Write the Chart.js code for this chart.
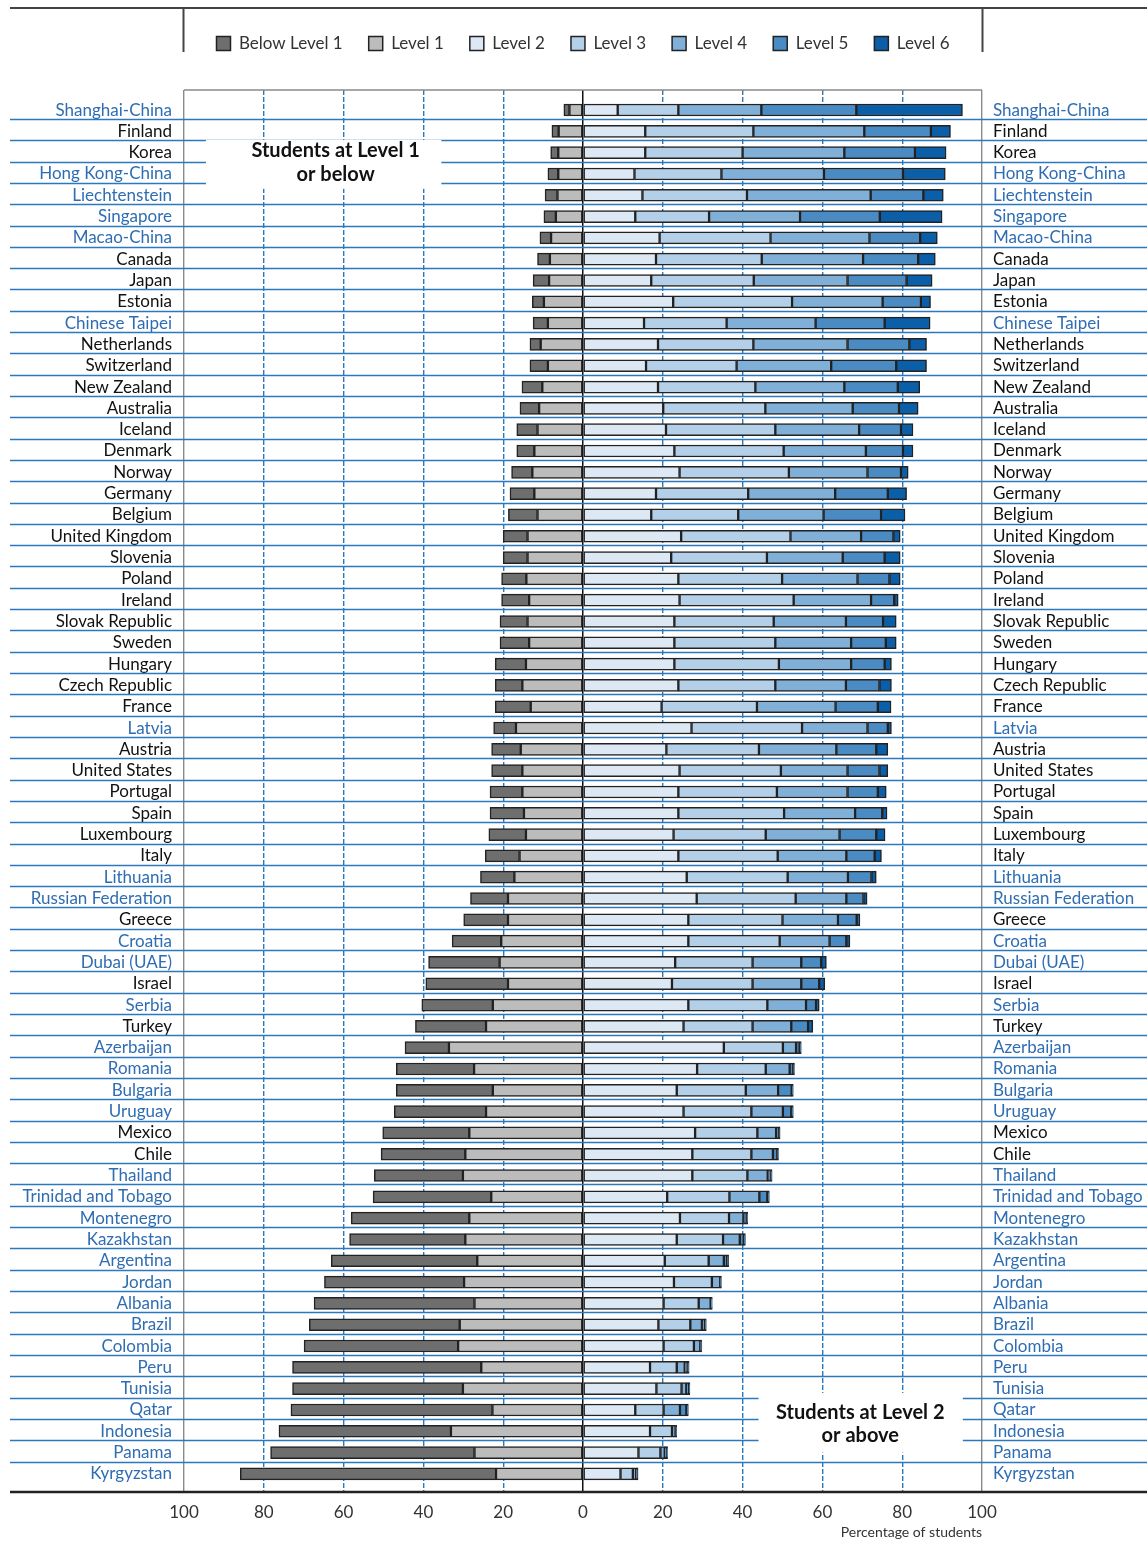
<!DOCTYPE html>
<html>
<head>
<meta charset="utf-8">
<script src="https://cdn.jsdelivr.net/npm/chart.js@4.4.1/dist/chart.umd.min.js"></script>
<style>
  html, body { margin: 0; padding: 0; background: #fff; }
  #wrap { width: 1147px; height: 1541px; position: relative; }
</style>
</head>
<body>
<div id="wrap"><canvas id="levels-graphic"></canvas></div>
<script>
const countries = ['Shanghai-China', 'Finland', 'Korea', 'Hong Kong-China', 'Liechtenstein', 'Singapore', 'Macao-China', 'Canada', 'Japan', 'Estonia',
    'Chinese Taipei', 'Netherlands', 'Switzerland', 'New Zealand', 'Australia', 'Iceland', 'Denmark', 'Norway', 'Germany', 'Belgium',
    'United Kingdom', 'Slovenia', 'Poland', 'Ireland', 'Slovak Republic', 'Sweden', 'Hungary', 'Czech Republic', 'France', 'Latvia',
    'Austria', 'United States', 'Portugal', 'Spain', 'Luxembourg', 'Italy', 'Lithuania', 'Russian Federation', 'Greece', 'Croatia',
    'Dubai (UAE)', 'Israel', 'Serbia', 'Turkey', 'Azerbaijan', 'Romania', 'Bulgaria', 'Uruguay', 'Mexico', 'Chile',
    'Thailand', 'Trinidad and Tobago', 'Montenegro', 'Kazakhstan', 'Argentina', 'Jordan', 'Albania', 'Brazil', 'Colombia', 'Peru',
    'Tunisia', 'Qatar', 'Indonesia', 'Panama', 'Kyrgyzstan'];

// partner countries get blue labels
const partners = ['Shanghai-China', 'Hong Kong-China', 'Liechtenstein', 'Singapore', 'Macao-China', 'Chinese Taipei', 'Latvia', 'Lithuania',
    'Russian Federation', 'Croatia', 'Dubai (UAE)', 'Serbia', 'Azerbaijan', 'Romania', 'Bulgaria', 'Uruguay', 'Thailand', 'Trinidad and Tobago',
    'Montenegro', 'Kazakhstan', 'Argentina', 'Jordan', 'Albania', 'Brazil', 'Colombia', 'Peru', 'Tunisia', 'Qatar', 'Indonesia', 'Panama', 'Kyrgyzstan'];

const belowLevel1 = [1.4, 1.7, 1.9, 2.6, 3.1, 3.0, 2.8, 3.1, 4.0, 2.9, 3.7, 2.7, 4.5, 5.1, 4.8, 5.2, 4.4, 5.2, 6.1, 7.3,
    6.1, 6.1, 6.2, 6.9, 6.9, 7.3, 7.7, 6.8, 8.9, 5.6, 7.3, 7.7, 8.1, 8.5, 9.3, 8.6, 8.5, 9.4, 11.1, 12.3,
    17.8, 20.6, 17.8, 17.7, 11.0, 19.5, 24.2, 23.0, 21.7, 21.1, 22.2, 29.6, 29.6, 29.0, 36.6, 35.0, 40.2, 37.7, 38.6, 47.3,
    42.7, 50.5, 43.1, 51.1, 64.1];
const level1 = [3.4, 6.1, 6.2, 6.2, 6.4, 6.8, 8.0, 8.3, 8.5, 9.8, 8.8, 10.6, 8.8, 10.2, 11.0, 11.4, 12.2, 12.7, 12.2, 11.4,
    13.9, 13.9, 14.2, 13.5, 13.9, 13.5, 14.3, 15.2, 13.1, 16.8, 15.6, 15.2, 15.2, 14.8, 14.3, 15.9, 17.2, 18.8, 18.8, 20.5,
    20.9, 18.8, 22.6, 24.3, 33.6, 27.3, 22.6, 24.3, 28.5, 29.5, 30.1, 23.0, 28.5, 29.5, 26.5, 29.8, 27.2, 30.9, 31.3, 25.5,
    30.1, 22.7, 33.1, 27.2, 21.8];
const level2 = [8.7, 15.6, 15.6, 12.9, 14.9, 13.1, 19.2, 18.3, 17.1, 22.6, 15.3, 18.8, 15.8, 18.8, 20.1, 20.8, 22.9, 24.2, 18.3, 17.1,
    24.6, 22.1, 23.9, 24.2, 22.9, 22.9, 22.9, 23.9, 19.7, 27.2, 20.9, 24.2, 23.9, 23.9, 22.7, 23.9, 26.0, 28.5, 26.4, 26.4,
    23.1, 22.3, 26.4, 25.2, 35.3, 28.6, 23.5, 25.2, 28.1, 27.4, 27.4, 21.1, 24.3, 23.5, 20.5, 22.8, 20.2, 18.9, 20.2, 16.8,
    18.4, 13.1, 16.8, 13.9, 9.4];
const level3 = [15.2, 27.1, 24.4, 21.8, 26.2, 18.5, 27.8, 26.5, 25.7, 29.8, 20.7, 23.9, 22.7, 24.4, 25.6, 27.4, 27.4, 27.4, 23.1, 21.8,
    27.4, 24.0, 26.0, 28.6, 24.9, 25.3, 26.2, 24.3, 23.9, 27.7, 23.2, 25.4, 24.7, 26.5, 23.1, 24.9, 25.3, 24.8, 23.6, 22.9,
    19.4, 20.2, 19.8, 17.3, 14.8, 17.2, 17.3, 17.0, 15.6, 14.8, 13.8, 15.6, 12.3, 11.6, 11.0, 9.5, 8.8, 8.0, 7.6, 6.7,
    6.3, 7.1, 5.5, 5.5, 3.1];
const level4 = [20.8, 27.8, 25.5, 25.7, 31.0, 22.8, 24.8, 25.4, 23.5, 22.7, 22.3, 23.6, 23.7, 22.3, 21.9, 21.0, 20.6, 19.7, 21.8, 21.4,
    17.7, 19.0, 18.9, 19.4, 18.1, 19.0, 18.1, 17.7, 19.7, 16.4, 19.4, 16.7, 17.7, 17.8, 18.5, 17.2, 15.1, 12.7, 13.9, 12.5,
    12.2, 12.2, 9.7, 9.7, 3.3, 6.0, 8.1, 7.9, 4.7, 5.4, 5.1, 7.5, 3.6, 4.2, 3.8, 2.1, 3.0, 2.9, 1.6, 2.0,
    1.2, 4.1, 0.9, 1.1, 0.8];
const level5 = [23.8, 16.7, 17.7, 19.8, 13.2, 20.0, 12.7, 13.8, 14.8, 9.6, 17.3, 15.5, 16.3, 13.4, 11.6, 10.5, 9.3, 8.4, 13.2, 14.4,
    8.1, 10.5, 8.0, 5.8, 9.3, 8.7, 8.4, 8.4, 10.6, 5.1, 10.0, 8.0, 7.6, 6.8, 9.2, 7.1, 5.9, 4.3, 4.7, 4.2,
    5.0, 4.5, 2.5, 4.2, 0.9, 0.9, 3.4, 2.1, 0.8, 1.1, 0.7, 2.0, 0.8, 1.0, 0.8, 0.3, 0.3, 0.7, 0.3, 0.6,
    0.6, 1.6, 0.2, 0.5, 0.4];
const level6 = [26.6, 4.9, 7.8, 10.6, 5.0, 15.6, 4.3, 4.3, 6.4, 2.4, 11.4, 4.3, 7.6, 5.5, 4.8, 3.0, 2.5, 1.8, 4.7, 6.0,
    1.7, 3.9, 2.7, 1.0, 3.3, 2.6, 1.7, 3.0, 3.3, 0.9, 2.9, 2.1, 2.1, 1.2, 2.2, 1.7, 1.2, 0.9, 0.8, 0.9,
    1.3, 1.4, 0.8, 1.2, 0.4, 0.3, 0.4, 0.5, 0.2, 0.3, 0.4, 0.5, 0.3, 0.4, 0.4, 0.0, 0.1, 0.4, 0.1, 0.5,
    0.3, 0.5, 0.1, 0.2, 0.1];

const BLUE = '#2b78bd';
const LABEL_BLUE = '#2f6db3';

// level 1 goes first so it sits next to zero on the negative side
const series = [
    { label: 'Level 1', values: level1, sign: -1, color: '#bcbcbc', rank: 1 },
    { label: 'Below Level 1', values: belowLevel1, sign: -1, color: '#6e6e6e', rank: 0 },
    { label: 'Level 2', values: level2, sign: 1, color: '#dce8f4', rank: 2 },
    { label: 'Level 3', values: level3, sign: 1, color: '#b4d0e8', rank: 3 },
    { label: 'Level 4', values: level4, sign: 1, color: '#80b0d8', rank: 4 },
    { label: 'Level 5', values: level5, sign: 1, color: '#4a8bc3', rank: 5 },
    { label: 'Level 6', values: level6, sign: 1, color: '#0b5ea8', rank: 6 }
];

const labelFont = { family: 'Lato', size: 17 };

function countryTicks(position, width, pad) {
    return {
        type: 'linear',
        position: position,
        reverse: true,
        offset: false,
        min: -0.94,
        max: 64.85,
        stacked: true,
        grid: { display: false, drawTicks: false, offset: false },
        border: { display: false },
        ticks: {
            stepSize: 1,
            autoSkip: false,
            includeBounds: false,
            maxTicksLimit: 200,
            padding: pad,
            font: labelFont,
            color: ctx => partners.includes(countries[ctx.tick.value]) ? LABEL_BLUE : '#111',
            callback: v => countries[v] ?? ''
        },
        afterFit: scale => { scale.width = width; }
    };
}

const decorations = {
    id: 'decorations',
    beforeInit(chart) {
        const lg = chart.legend;
        const fit = lg.fit;
        lg.fit = function () {
            fit.call(this);
            this.height = 81;
        };
    },
    beforeDatasetsDraw(chart) {
        const { ctx, chartArea, scales } = chart;
        const x = scales.x, y = scales.y;
        ctx.save();

        // row separators across the whole width
        ctx.strokeStyle = BLUE;
        ctx.lineWidth = 1.5;
        for (let i = 0; i < countries.length - 1; i++) {
            const py = Math.round(y.getPixelForValue(i + 0.42)) + 0.5;
            ctx.beginPath();
            ctx.moveTo(10, py);
            ctx.lineTo(chart.width, py);
            ctx.stroke();
        }

        // top edge of the plot frame
        ctx.strokeStyle = '#8a8a8a';
        ctx.lineWidth = 1.5;
        ctx.beginPath();
        ctx.moveTo(chartArea.left, chartArea.top);
        ctx.lineTo(chartArea.right, chartArea.top);
        ctx.stroke();

        // white label boxes
        const boxes = [
            { x0: -94.5, x1: -35.5, y0: 1.4, y1: 3.7, cx: -62, lines: ['Students at Level 1', 'or below'], rows: [1.9, 3.05] },
            { x0: 44, x1: 95.2, y0: 60.2, y1: 63.0, cx: 69.5, lines: ['Students at Level 2', 'or above'], rows: [61.1, 62.2] }
        ];
        ctx.font = 'bold 20px Lato';
        ctx.textAlign = 'center';
        ctx.textBaseline = 'middle';
        boxes.forEach(b => {
            const left = x.getPixelForValue(b.x0), right = x.getPixelForValue(b.x1);
            const top = y.getPixelForValue(b.y0), bottom = y.getPixelForValue(b.y1);
            ctx.fillStyle = '#fff';
            ctx.fillRect(left, top, right - left, bottom - top);
            ctx.fillStyle = '#111';
            b.lines.forEach((t, k) => ctx.fillText(t, x.getPixelForValue(b.cx), y.getPixelForValue(b.rows[k])));
        });
        ctx.restore();
    },
    afterDraw(chart) {
        const { ctx, chartArea } = chart;
        ctx.save();
        // bottom axis rule
        ctx.strokeStyle = '#222';
        ctx.lineWidth = 2.5;
        ctx.beginPath();
        ctx.moveTo(10, chartArea.bottom);
        ctx.lineTo(chart.width, chartArea.bottom);
        ctx.stroke();
        // legend frame
        ctx.strokeStyle = '#444';
        ctx.lineWidth = 2;
        ctx.beginPath();
        ctx.moveTo(10, 8);
        ctx.lineTo(chart.width, 8);
        ctx.moveTo(chartArea.left - 0.5, 8);
        ctx.lineTo(chartArea.left - 0.5, 52);
        ctx.moveTo(chartArea.right + 0.5, 8);
        ctx.lineTo(chartArea.right + 0.5, 52);
        ctx.stroke();
        ctx.restore();
    }
};

const graphic = document.querySelector('#levels-graphic');

new Chart(graphic, {
    type: 'bar',
    data: {
        datasets: series.map(s => ({
            label: s.label,
            data: s.values.map((v, i) => ({ x: s.sign * v, y: i })),
            backgroundColor: s.color,
            borderColor: '#222',
            borderWidth: 1.5,
            borderSkipped: false,
            barThickness: 12
        }))
    },
    options: {
        indexAxis: 'y',
        responsive: true,
        maintainAspectRatio: false,
        animation: false,
        layout: { padding: { top: 9, left: 0, right: 0, bottom: 0 } },
        scales: {
            x: {
                type: 'linear',
                min: -100,
                max: 100,
                stacked: true,
                grid: {
                    drawTicks: false,
                    color: ctx => ctx.tick.value === 0 ? '#111' : (Math.abs(ctx.tick.value) === 100 ? '#8a8a8a' : BLUE),
                    lineWidth: ctx => ctx.tick.value === 0 ? 1.5 : 1.4
                },
                border: {
                    display: false,
                    dash: ctx => (ctx.tick && ctx.tick.value % 100 !== 0) ? [5, 2] : []
                },
                ticks: {
                    stepSize: 20,
                    padding: 10,
                    font: labelFont,
                    color: '#333',
                    callback: v => Math.abs(v)
                },
                title: {
                    display: true,
                    text: 'Percentage of students',
                    align: 'end',
                    color: '#333',
                    font: { family: 'Lato', size: 14 },
                    padding: { top: 2, bottom: 0 }
                },
                afterFit: scale => { scale.height = 49; }
            },
            y: countryTicks('left', 184, 12),
            y2: countryTicks('right', 165, 11)
        },
        plugins: {
            legend: {
                position: 'top',
                fullSize: false,
                labels: {
                    boxWidth: 14,
                    boxHeight: 14,
                    padding: 26,
                    color: '#333',
                    font: labelFont,
                    sort: (a, b) => series[a.datasetIndex].rank - series[b.datasetIndex].rank
                }
            },
            tooltip: { enabled: false }
        }
    },
    plugins: [decorations]
});
</script>
</body>
</html>
